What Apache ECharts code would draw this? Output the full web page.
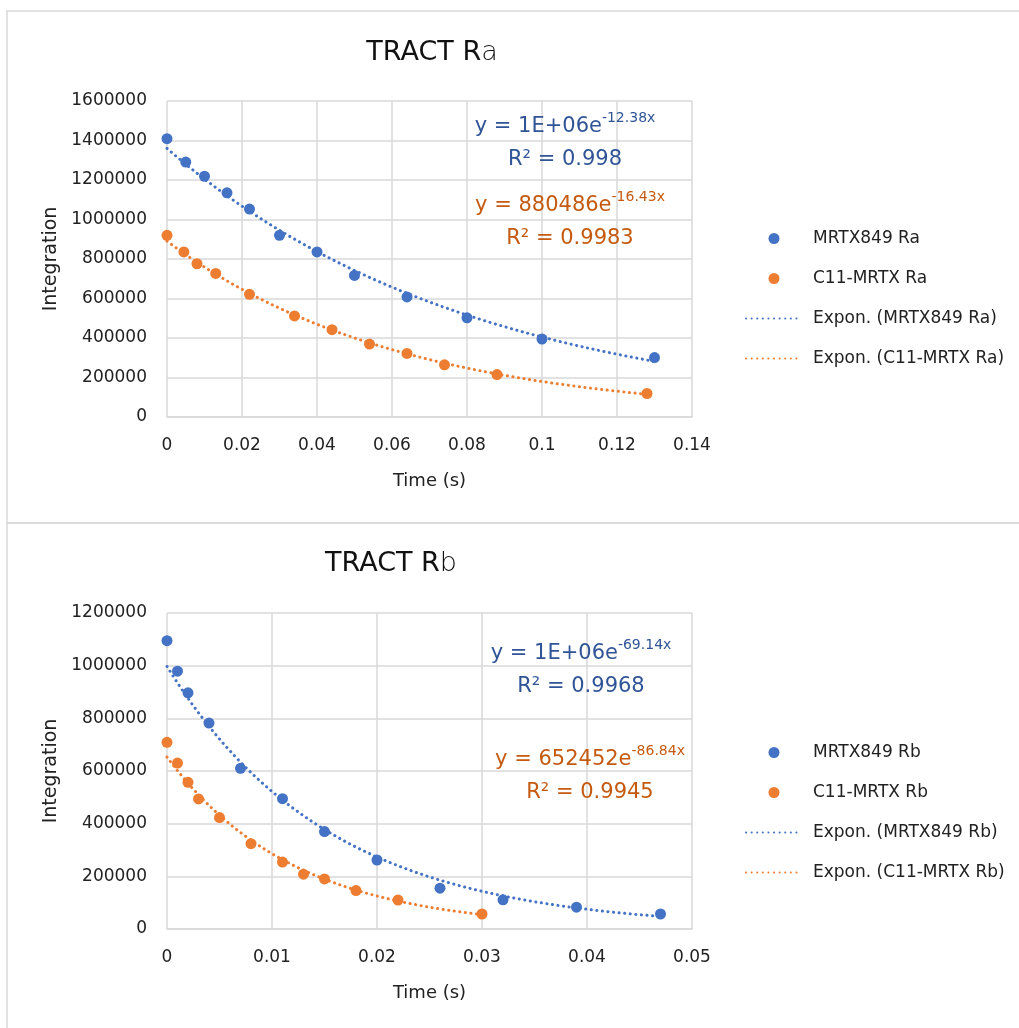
<!DOCTYPE html>
<html>
<head>
<meta charset="utf-8">
<script src="https://cdn.jsdelivr.net/npm/echarts@6/dist/echarts.min.js"></script>
<style>
  html, body { margin: 0; padding: 0; background: #fff; }
  #main { width: 1019px; height: 1028px; }
</style>
</head>
<body>
<div id="main"></div>
<script>
// TRACT Ra
var raTimeBlue = [0, 0.005, 0.01, 0.016, 0.022, 0.03, 0.04, 0.05, 0.064, 0.08, 0.1, 0.13];
var raBlue = [1409000, 1291000, 1219000, 1135000, 1053000, 920000, 836000, 717000, 608000, 502000, 395000, 301000];
var raTimeOrange = [0, 0.0045, 0.008, 0.013, 0.022, 0.034, 0.044, 0.054, 0.064, 0.074, 0.088, 0.128];
var raOrange = [920000, 836000, 776000, 727000, 621000, 512000, 442000, 369000, 322000, 264000, 215000, 119000];

// TRACT Rb
var rbTimeBlue = [0, 0.001, 0.002, 0.004, 0.007, 0.011, 0.015, 0.02, 0.026, 0.032, 0.039, 0.047];
var rbBlue = [1095000, 979000, 897000, 782000, 610000, 495000, 370000, 262000, 155000, 111000, 83000, 57000];
var rbTimeOrange = [0, 0.001, 0.002, 0.003, 0.005, 0.008, 0.011, 0.013, 0.015, 0.018, 0.022, 0.03];
var rbOrange = [709000, 630000, 557000, 494000, 423000, 324000, 254000, 208000, 190000, 146000, 110000, 57000];

var namesRa = ['MRTX849 Ra', 'C11-MRTX Ra', 'Expon. (MRTX849 Ra)', 'Expon. (C11-MRTX Ra)'];
var namesRb = ['MRTX849 Rb', 'C11-MRTX Rb', 'Expon. (MRTX849 Rb)', 'Expon. (C11-MRTX Rb)'];

// trendline labels as shown on the chart
var eqRa = [['1E+06', '-12.38x', '0.998'], ['880486', '-16.43x', '0.9983']];
var eqRb = [['1E+06', '-69.14x', '0.9968'], ['652452', '-86.84x', '0.9945']];

var BLUE = '#4472C4', ORANGE = '#ED7D31';
var FONT = 'DejaVu Sans';

function pairs(xs, ys) {
  return xs.map(function (x, i) { return [x, ys[i]]; });
}

// exponential trendline, least squares on ln(y) like Excel does
function expFit(xs, ys) {
  var n = xs.length, sx = 0, sy = 0, sxx = 0, sxy = 0;
  for (var i = 0; i < n; i++) {
    var ly = Math.log(ys[i]);
    sx += xs[i]; sy += ly; sxx += xs[i] * xs[i]; sxy += xs[i] * ly;
  }
  var b = (n * sxy - sx * sy) / (n * sxx - sx * sx);
  var a = Math.exp((sy - b * sx) / n);
  var x0 = Math.min.apply(null, xs), x1 = Math.max.apply(null, xs);
  var out = [];
  for (var k = 0; k <= 80; k++) {
    var x = x0 + (x1 - x0) * k / 80;
    out.push([x, a * Math.exp(b * x)]);
  }
  return out;
}

function xAxisCfg(idx, max, interval) {
  return {
    type: 'value', gridIndex: idx, min: 0, max: max, interval: interval,
    name: 'Time (s)', nameLocation: 'middle', nameGap: 55,
    nameTextStyle: { fontFamily: FONT, fontSize: 18, color: '#222' },
    axisLine: { show: true, lineStyle: { color: '#d9d9d9', width: 1.5 } },
    axisTick: { show: false },
    axisLabel: { fontFamily: FONT, fontSize: 17, color: '#222', margin: 20,
      formatter: function (v) { return String(+v.toFixed(4)); } },
    splitLine: { show: true, lineStyle: { color: '#d9d9d9', width: 1.5 } }
  };
}

function yAxisCfg(idx, max) {
  return {
    type: 'value', gridIndex: idx, min: 0, max: max, interval: 200000,
    name: 'Integration', nameLocation: 'middle', nameGap: 104,
    nameTextStyle: { fontFamily: FONT, fontSize: 19, color: '#222' },
    axisLine: { show: false },
    axisTick: { show: false },
    axisLabel: { fontFamily: FONT, fontSize: 17, color: '#222', margin: 20,
      formatter: function (v) { return String(v); } },
    splitLine: { show: true, lineStyle: { color: '#d9d9d9', width: 1.5 } }
  };
}

function scatter(name, idx, data, color) {
  return {
    name: name, type: 'scatter', xAxisIndex: idx, yAxisIndex: idx,
    data: data, symbolSize: 11, clip: false,
    itemStyle: { color: color, opacity: 1 }
  };
}

function trend(name, idx, data, color) {
  return {
    name: name, type: 'line', xAxisIndex: idx, yAxisIndex: idx,
    data: data, symbol: 'none', smooth: false, clip: false,
    lineStyle: { color: color, width: 3, type: [0.1, 5.5], cap: 'round' },
    itemStyle: { color: color }
  };
}

function legendCfg(names, top) {
  return {
    orient: 'vertical', left: 740, top: top, itemWidth: 56, itemHeight: 11,
    itemGap: 23,
    data: names.map(function (n, i) {
      // trendline entries show only the dotted line
      return i < 2 ? { name: n } : { name: n, itemStyle: { opacity: 0 } };
    }),
    textStyle: { fontFamily: FONT, fontSize: 17, color: '#222', padding: [0, 0, 0, 6] }
  };
}

function eqText(x, y, eq, color) {
  return {
    type: 'text', x: x, y: y, z: 50,
    style: {
      text: '{m|y = ' + eq[0] + 'e}{s|' + eq[1] + '}\n{m|R² = ' + eq[2] + '}',
      align: 'center', verticalAlign: 'top',
      fill: color,
      rich: {
        m: { fontFamily: FONT, fontSize: 21, fill: color, lineHeight: 33, verticalAlign: 'bottom' },
        s: { fontFamily: FONT, fontSize: 14, fill: color, lineHeight: 14, verticalAlign: 'top',
          padding: [7, 0, 0, 0] }
      }
    }
  };
}

var titleStyle = {
  fontFamily: FONT, fontSize: 27, fontWeight: 'normal', color: '#111',
  rich: { l: { fontFamily: FONT, fontSize: 27, fontWeight: 200, color: '#111' } }
};

var chart = echarts.init(document.getElementById('main'));
chart.setOption({
  backgroundColor: '#fff',
  animation: false,
  title: [
    { text: 'TRACT R{l|a}', left: 427, top: 34, textAlign: 'center', textStyle: titleStyle },
    { text: 'TRACT R{l|b}', left: 386, top: 545, textAlign: 'center', textStyle: titleStyle }
  ],
  legend: [legendCfg(namesRa, 225), legendCfg(namesRb, 739)],
  grid: [
    { left: 167, top: 101, width: 525, height: 316 },
    { left: 167, top: 613, width: 525, height: 316 }
  ],
  xAxis: [xAxisCfg(0, 0.14, 0.02), xAxisCfg(1, 0.05, 0.01)],
  yAxis: [yAxisCfg(0, 1600000), yAxisCfg(1, 1200000)],
  series: [
    scatter(namesRa[0], 0, pairs(raTimeBlue, raBlue), BLUE),
    scatter(namesRa[1], 0, pairs(raTimeOrange, raOrange), ORANGE),
    trend(namesRa[2], 0, expFit(raTimeBlue, raBlue), BLUE),
    trend(namesRa[3], 0, expFit(raTimeOrange, raOrange), ORANGE),
    scatter(namesRb[0], 1, pairs(rbTimeBlue, rbBlue), BLUE),
    scatter(namesRb[1], 1, pairs(rbTimeOrange, rbOrange), ORANGE),
    trend(namesRb[2], 1, expFit(rbTimeBlue, rbBlue), BLUE),
    trend(namesRb[3], 1, expFit(rbTimeOrange, rbOrange), ORANGE)
  ],
  graphic: [
    { type: 'rect', shape: { x: 7, y: 11, width: 1100, height: 512 },
      style: { fill: 'none', stroke: '#d9d9d9', lineWidth: 1.5 }, z: -1 },
    { type: 'rect', shape: { x: 7, y: 523, width: 1100, height: 600 },
      style: { fill: 'none', stroke: '#d9d9d9', lineWidth: 1.5 }, z: -1 },
    eqText(565, 104, eqRa[0], '#2F5597'),
    eqText(570, 183, eqRa[1], '#C55A11'),
    eqText(581, 631, eqRb[0], '#2F5597'),
    eqText(590, 737, eqRb[1], '#C55A11')
  ]
});
</script>
</body>
</html>
